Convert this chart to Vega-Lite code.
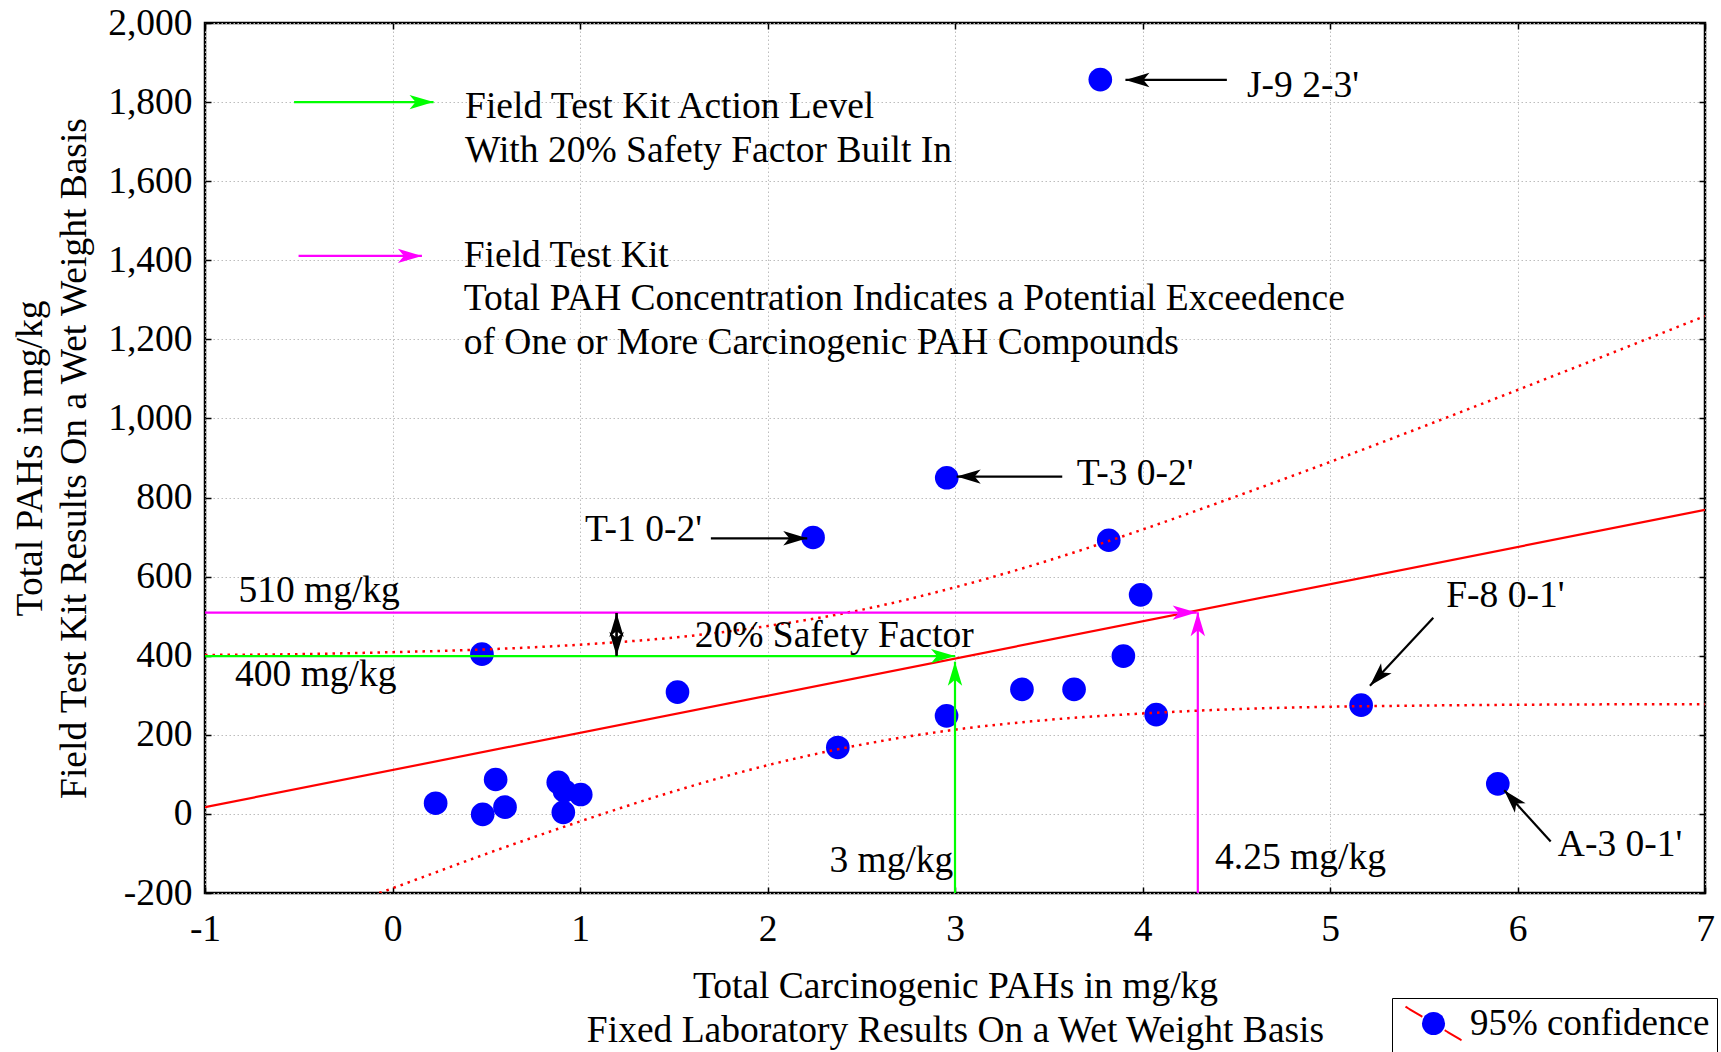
{
  "$schema": "https://vega.github.io/schema/vega-lite/v6.json",
  "width": 1500,
  "height": 870,
  "autosize": {"type": "none"},
  "padding": {"left": 205, "top": 23, "right": 16, "bottom": 159},
  "background": "white",
  "config": {
    "font": "Liberation Serif",
    "view": {"stroke": "black", "strokeWidth": 2.5},
    "axis": {
      "labelFont": "Liberation Serif", "labelFontSize": 37.5, "labelColor": "black",
      "titleFont": "Liberation Serif", "titleFontSize": 37.5, "titleColor": "black", "titleFontWeight": "normal",
      "tickColor": "black", "tickWidth": 1.5, "tickSize": -6,
      "domain": false,
      "gridColor": "#bdbdbd", "gridDash": [1.5, 2.5], "gridWidth": 1,
      "labelFlush": false, "labelOverlap": false
    },
    "legend": {"labelFont": "Liberation Serif", "labelFontSize": 37, "labelColor": "black", "labelLimit": 500}
  },
  "datasets": {
    "points": [
      {"sample": "J-9 2-3'", "x": 3.775, "y": 1857},
      {"sample": "T-3 0-2'", "x": 2.956, "y": 850},
      {"sample": "T-1 0-2'", "x": 2.243, "y": 699},
      {"sample": "", "x": 3.82, "y": 692},
      {"sample": "", "x": 3.99, "y": 554},
      {"sample": "", "x": 0.477, "y": 404},
      {"sample": "", "x": 1.52, "y": 308},
      {"sample": "", "x": 3.357, "y": 315},
      {"sample": "", "x": 3.635, "y": 315},
      {"sample": "", "x": 3.898, "y": 399},
      {"sample": "", "x": 2.955, "y": 248},
      {"sample": "", "x": 4.073, "y": 251},
      {"sample": "", "x": 2.375, "y": 168},
      {"sample": "F-8 0-1'", "x": 5.166, "y": 275},
      {"sample": "A-3 0-1'", "x": 5.895, "y": 76},
      {"sample": "", "x": 0.23, "y": 27},
      {"sample": "", "x": 0.481, "y": -1},
      {"sample": "", "x": 0.55, "y": 87},
      {"sample": "", "x": 0.6, "y": 17},
      {"sample": "", "x": 0.884, "y": 80},
      {"sample": "", "x": 0.917, "y": 58},
      {"sample": "", "x": 1.004, "y": 49},
      {"sample": "", "x": 0.911, "y": 4}
    ],
    "fit": [
      {"x": -1, "y": 17},
      {"x": 7, "y": 769}
    ],
    "bands": [
      {"band": "upper", "x": -1, "y": 402},
      {"band": "upper", "x": -0.5, "y": 404},
      {"band": "upper", "x": 0, "y": 409},
      {"band": "upper", "x": 0.5, "y": 416},
      {"band": "upper", "x": 1, "y": 428},
      {"band": "upper", "x": 1.5, "y": 446},
      {"band": "upper", "x": 2, "y": 475},
      {"band": "upper", "x": 2.5, "y": 516},
      {"band": "upper", "x": 3, "y": 573},
      {"band": "upper", "x": 3.5, "y": 641},
      {"band": "upper", "x": 4, "y": 719},
      {"band": "upper", "x": 4.5, "y": 803},
      {"band": "upper", "x": 5, "y": 890},
      {"band": "upper", "x": 5.5, "y": 980},
      {"band": "upper", "x": 6, "y": 1072},
      {"band": "upper", "x": 6.5, "y": 1165},
      {"band": "upper", "x": 7, "y": 1259},
      {"band": "lower", "x": -0.07, "y": -200},
      {"band": "lower", "x": 0, "y": -188},
      {"band": "lower", "x": 0.5, "y": -101},
      {"band": "lower", "x": 1, "y": -19},
      {"band": "lower", "x": 1.5, "y": 57},
      {"band": "lower", "x": 2, "y": 123},
      {"band": "lower", "x": 2.5, "y": 175},
      {"band": "lower", "x": 3, "y": 213},
      {"band": "lower", "x": 3.5, "y": 238},
      {"band": "lower", "x": 4, "y": 254},
      {"band": "lower", "x": 4.5, "y": 265},
      {"band": "lower", "x": 5, "y": 271},
      {"band": "lower", "x": 5.5, "y": 274},
      {"band": "lower", "x": 6, "y": 276},
      {"band": "lower", "x": 6.5, "y": 277},
      {"band": "lower", "x": 7, "y": 277}
    ],
    "arrows": [
      {"id": "action-key", "group": "action", "dir": "right", "x": -0.525, "y": 1800, "x2": 0.219, "y2": 1800},
      {"id": "kit-key", "group": "kit", "dir": "right", "x": -0.501, "y": 1411, "x2": 0.157, "y2": 1411},
      {"id": "400", "group": "action", "dir": "right", "x": -1, "y": 399, "x2": 3.0, "y2": 399},
      {"id": "3", "group": "action", "dir": "up", "x": 3.0, "y": -200, "x2": 3.0, "y2": 385},
      {"id": "510", "group": "kit", "dir": "right", "x": -1, "y": 509, "x2": 4.289, "y2": 509},
      {"id": "4.25", "group": "kit", "dir": "up", "x": 4.295, "y": -200, "x2": 4.295, "y2": 510},
      {"id": "J-9", "group": "note", "dir": "left", "x": 4.45, "y": 1856, "x2": 3.909, "y2": 1856},
      {"id": "T-3", "group": "note", "dir": "left", "x": 3.572, "y": 853, "x2": 3.009, "y2": 853},
      {"id": "T-1", "group": "note", "dir": "right", "x": 1.698, "y": 697, "x2": 2.212, "y2": 697},
      {"id": "F-8", "group": "note", "dir": "downleft", "x": 5.551, "y": 496, "x2": 5.213, "y2": 324},
      {"id": "A-3", "group": "note", "dir": "upleft", "x": 6.177, "y": -70, "x2": 5.929, "y2": 60},
      {"id": "safety-up", "group": "note", "dir": "up", "x": 1.195, "y": 400, "x2": 1.195, "y2": 508},
      {"id": "safety-down", "group": "note", "dir": "down", "x": 1.195, "y": 508, "x2": 1.195, "y2": 400}
    ],
    "labels": [
      {"x": 0.387, "y": 1759, "text": "Field Test Kit Action Level"},
      {"x": 0.387, "y": 1649, "text": "With 20% Safety Factor Built In"},
      {"x": 0.38, "y": 1384, "text": "Field Test Kit"},
      {"x": 0.38, "y": 1273, "text": "Total PAH Concentration Indicates a Potential Exceedence"},
      {"x": 0.38, "y": 1163, "text": "of One or More Carcinogenic PAH Compounds"},
      {"x": 4.557, "y": 1812, "text": "J-9 2-3'"},
      {"x": 3.649, "y": 832, "text": "T-3 0-2'"},
      {"x": 1.027, "y": 691, "text": "T-1 0-2'"},
      {"x": 5.62, "y": 523, "text": "F-8 0-1'"},
      {"x": 6.215, "y": -106, "text": "A-3 0-1'"},
      {"x": -0.822, "y": 537, "text": "510 mg/kg"},
      {"x": -0.84, "y": 323, "text": "400 mg/kg"},
      {"x": 1.612, "y": 421, "text": "20% Safety Factor"},
      {"x": 2.33, "y": -146, "text": "3 mg/kg"},
      {"x": 4.387, "y": -140, "text": "4.25 mg/kg"}
    ]
  },
  "resolve": {"axis": {"x": "independent", "y": "independent"}},
  "layer": [
    {
      "data": {"name": "points"},
      "mark": {"type": "circle", "size": 560, "opacity": 1},
      "encoding": {
        "x": {"field": "x", "type": "quantitative",
          "scale": {"domain": [-1, 7], "nice": false, "zero": false},
          "axis": {"orient": "bottom", "values": [-1, 0, 1, 2, 3, 4, 5, 6, 7], "labelPadding": 23, "grid": true,
            "labelExpr": "datum.value < 0 ? '-' + (-datum.value) : '' + datum.value",
            "title": ["Total Carcinogenic PAHs in mg/kg", "Fixed Laboratory Results On a Wet Weight Basis"],
            "titleY": 104, "titleBaseline": "alphabetic", "titleLineHeight": 44}},
        "y": {"field": "y", "type": "quantitative",
          "scale": {"domain": [-200, 2000], "nice": false, "zero": false},
          "axis": {"orient": "left", "values": [-200, 0, 200, 400, 600, 800, 1000, 1200, 1400, 1600, 1800, 2000], "labelPadding": 19, "grid": true,
            "labelExpr": "datum.value < 0 ? '-' + format(-datum.value, ',') : format(datum.value, ',')",
            "title": ["Total PAHs in mg/kg", "Field Test Kit Results On a Wet Weight Basis"],
            "titleX": -164, "titleY": 435, "titleAngle": 270, "titleAlign": "center", "titleBaseline": "alphabetic", "titleLineHeight": 44}},
        "fill": {"datum": "sample", "type": "nominal", "scale": {"range": ["#0000ff"]},
          "legend": {"title": null, "orient": "none", "legendX": 1187, "legendY": 975, "padding": 7,
            "symbolType": "circle", "symbolSize": 531, "symbolStrokeWidth": 0, "symbolOffset": 16, "labelOffset": 18, "labelExpr": "''"}}
      }
    },
    {
      "data": {"name": "bands"},
      "mark": {"type": "line", "strokeWidth": 2.5, "strokeDash": [2.5, 5], "interpolate": "monotone", "clip": true},
      "encoding": {
        "x": {"field": "x", "type": "quantitative", "scale": {"domain": [-1, 7], "nice": false, "zero": false}, "axis": null},
        "y": {"field": "y", "type": "quantitative", "scale": {"domain": [-200, 2000], "nice": false, "zero": false}, "axis": null},
        "detail": {"field": "band"},
        "stroke": {"datum": "95% confidence", "type": "nominal", "scale": {"range": ["#ff0000"]},
          "legend": {"title": null, "orient": "none", "legendX": 1187, "legendY": 975, "padding": 7,
            "strokeColor": "black", "symbolType": "M-2,-1.2L-0.8,-0.48M0.8,0.48L2,1.2", "symbolSize": 784,
            "symbolStrokeWidth": 2, "symbolDash": [1, 0], "symbolOffset": 16, "labelOffset": 18}}
      }
    },
    {
      "data": {"name": "fit"},
      "mark": {"type": "line", "color": "#ff0000", "strokeWidth": 2.2, "clip": true},
      "encoding": {
        "x": {"field": "x", "type": "quantitative", "scale": {"domain": [-1, 7], "nice": false, "zero": false},
          "axis": {"orient": "top", "values": [-1, 0, 1, 2, 3, 4, 5, 6, 7], "labels": false, "grid": false, "title": null}},
        "y": {"field": "y", "type": "quantitative", "scale": {"domain": [-200, 2000], "nice": false, "zero": false},
          "axis": {"orient": "right", "values": [-200, 0, 200, 400, 600, 800, 1000, 1200, 1400, 1600, 1800, 2000], "labels": false, "grid": false, "title": null}}
      }
    },
    {
      "data": {"name": "arrows"},
      "mark": {"type": "rule", "strokeWidth": 2.2, "clip": true},
      "encoding": {
        "x": {"field": "x", "type": "quantitative", "scale": {"domain": [-1, 7], "nice": false, "zero": false}, "axis": null},
        "y": {"field": "y", "type": "quantitative", "scale": {"domain": [-200, 2000], "nice": false, "zero": false}, "axis": null},
        "x2": {"field": "x2"},
        "y2": {"field": "y2"},
        "color": {"field": "group", "type": "nominal", "scale": {"domain": ["action", "kit", "note"], "range": ["#00ff00", "#ff00ff", "#000000"]}, "legend": null}
      }
    },
    {
      "data": {"name": "arrows"},
      "transform": [{"filter": "datum.dir === 'right'"}],
      "mark": {"type": "point", "shape": "M0,0L-2,-0.6L-1.5,0L-2,0.6Z", "filled": true, "size": 576, "opacity": 1, "angle": 0},
      "encoding": {
        "x": {"field": "x2", "type": "quantitative", "scale": {"domain": [-1, 7], "nice": false, "zero": false}, "axis": null},
        "y": {"field": "y2", "type": "quantitative", "scale": {"domain": [-200, 2000], "nice": false, "zero": false}, "axis": null},
        "color": {"field": "group", "type": "nominal", "scale": {"domain": ["action", "kit", "note"], "range": ["#00ff00", "#ff00ff", "#000000"]}, "legend": null}
      }
    },
    {
      "data": {"name": "arrows"},
      "transform": [{"filter": "datum.dir === 'left'"}],
      "mark": {"type": "point", "shape": "M0,0L-2,-0.6L-1.5,0L-2,0.6Z", "filled": true, "size": 576, "opacity": 1, "angle": 180},
      "encoding": {
        "x": {"field": "x2", "type": "quantitative", "scale": {"domain": [-1, 7], "nice": false, "zero": false}, "axis": null},
        "y": {"field": "y2", "type": "quantitative", "scale": {"domain": [-200, 2000], "nice": false, "zero": false}, "axis": null},
        "color": {"field": "group", "type": "nominal", "scale": {"domain": ["action", "kit", "note"], "range": ["#00ff00", "#ff00ff", "#000000"]}, "legend": null}
      }
    },
    {
      "data": {"name": "arrows"},
      "transform": [{"filter": "datum.dir === 'up'"}],
      "mark": {"type": "point", "shape": "M0,0L-2,-0.6L-1.5,0L-2,0.6Z", "filled": true, "size": 576, "opacity": 1, "angle": 270},
      "encoding": {
        "x": {"field": "x2", "type": "quantitative", "scale": {"domain": [-1, 7], "nice": false, "zero": false}, "axis": null},
        "y": {"field": "y2", "type": "quantitative", "scale": {"domain": [-200, 2000], "nice": false, "zero": false}, "axis": null},
        "color": {"field": "group", "type": "nominal", "scale": {"domain": ["action", "kit", "note"], "range": ["#00ff00", "#ff00ff", "#000000"]}, "legend": null}
      }
    },
    {
      "data": {"name": "arrows"},
      "transform": [{"filter": "datum.dir === 'down'"}],
      "mark": {"type": "point", "shape": "M0,0L-2,-0.6L-1.5,0L-2,0.6Z", "filled": true, "size": 576, "opacity": 1, "angle": 90},
      "encoding": {
        "x": {"field": "x2", "type": "quantitative", "scale": {"domain": [-1, 7], "nice": false, "zero": false}, "axis": null},
        "y": {"field": "y2", "type": "quantitative", "scale": {"domain": [-200, 2000], "nice": false, "zero": false}, "axis": null},
        "color": {"field": "group", "type": "nominal", "scale": {"domain": ["action", "kit", "note"], "range": ["#00ff00", "#ff00ff", "#000000"]}, "legend": null}
      }
    },
    {
      "data": {"name": "arrows"},
      "transform": [{"filter": "datum.dir === 'downleft'"}],
      "mark": {"type": "point", "shape": "M0,0L-2,-0.6L-1.5,0L-2,0.6Z", "filled": true, "size": 576, "opacity": 1, "angle": 133},
      "encoding": {
        "x": {"field": "x2", "type": "quantitative", "scale": {"domain": [-1, 7], "nice": false, "zero": false}, "axis": null},
        "y": {"field": "y2", "type": "quantitative", "scale": {"domain": [-200, 2000], "nice": false, "zero": false}, "axis": null},
        "color": {"field": "group", "type": "nominal", "scale": {"domain": ["action", "kit", "note"], "range": ["#00ff00", "#ff00ff", "#000000"]}, "legend": null}
      }
    },
    {
      "data": {"name": "arrows"},
      "transform": [{"filter": "datum.dir === 'upleft'"}],
      "mark": {"type": "point", "shape": "M0,0L-2,-0.6L-1.5,0L-2,0.6Z", "filled": true, "size": 576, "opacity": 1, "angle": 228},
      "encoding": {
        "x": {"field": "x2", "type": "quantitative", "scale": {"domain": [-1, 7], "nice": false, "zero": false}, "axis": null},
        "y": {"field": "y2", "type": "quantitative", "scale": {"domain": [-200, 2000], "nice": false, "zero": false}, "axis": null},
        "color": {"field": "group", "type": "nominal", "scale": {"domain": ["action", "kit", "note"], "range": ["#00ff00", "#ff00ff", "#000000"]}, "legend": null}
      }
    },
    {
      "data": {"name": "labels"},
      "mark": {"type": "text", "align": "left", "baseline": "alphabetic", "fontSize": 37.5, "font": "Liberation Serif", "color": "black"},
      "encoding": {
        "x": {"field": "x", "type": "quantitative", "scale": {"domain": [-1, 7], "nice": false, "zero": false}, "axis": null},
        "y": {"field": "y", "type": "quantitative", "scale": {"domain": [-200, 2000], "nice": false, "zero": false}, "axis": null},
        "text": {"field": "text"}
      }
    }
  ]
}
